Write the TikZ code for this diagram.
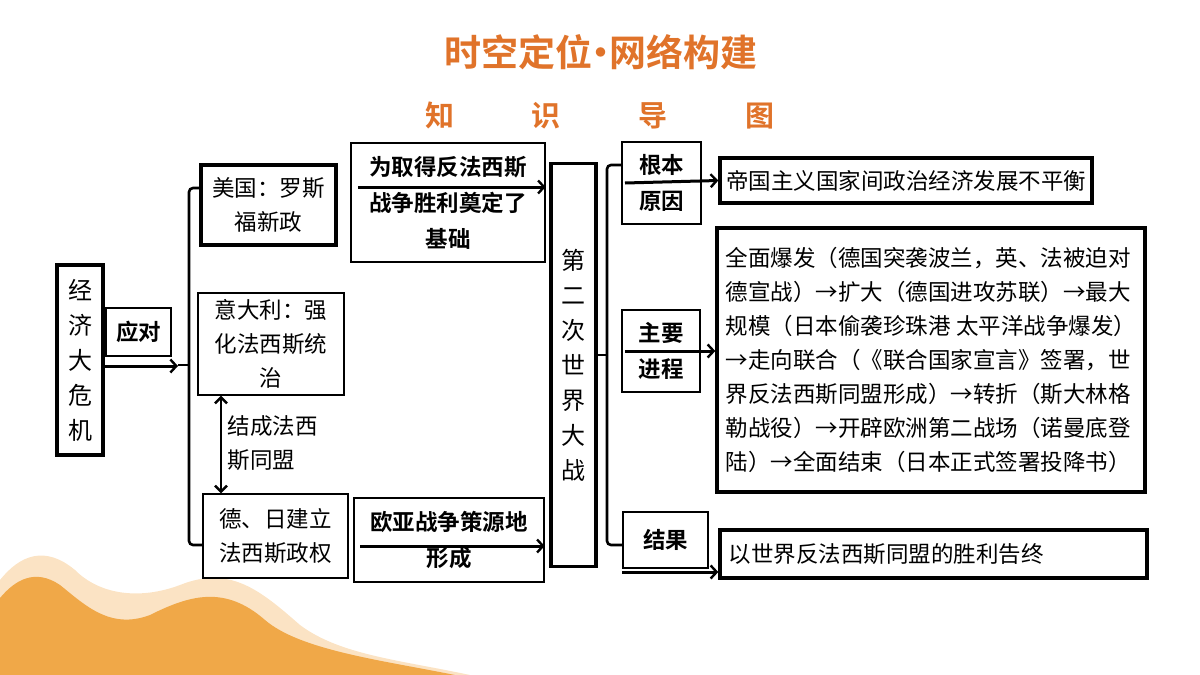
\documentclass[tikz,border=0pt]{standalone}
\usepackage{fontspec}
\setmainfont{Noto Sans CJK SC}
\newfontfamily\cjkb{Noto Sans CJK SC Bold}
\usetikzlibrary{arrows.meta,calc}
\definecolor{ttl}{HTML}{E0732A}
\definecolor{wave}{HTML}{F0A848}
\definecolor{wavel}{HTML}{FBE3C4}
\begin{document}
\begin{tikzpicture}[x=1pt,y=-1pt,
  thinbox/.style={draw,line width=1.4pt,inner sep=0pt,align=center},
  thickbox/.style={draw,line width=3.4pt,inner sep=0pt,align=center},
  arr/.style={line width=3pt,-{Straight Barb[length=6pt,width=13pt,line width=2.4pt]}},
  brk/.style={line width=2.6pt,rounded corners=4pt},
  txt/.style={font=\fontsize{22.5}{34}\selectfont},
  btxt/.style={font=\cjkb\fontsize{22.5}{36}\selectfont},
  vtxt/.style={font=\fontsize{24}{35}\selectfont}]
\useasboundingbox (0,0) rectangle (1200,675);
% wave
\fill[wavel] (0,580) .. controls (20,555) and (45,545) .. (75,570) .. controls (100,595) and (140,600) .. (180,585) .. controls (230,565) and (260,590) .. (300,625) .. controls (340,655) and (400,660) .. (470,675) -- (0,675) -- cycle;
\fill[wave] (0,598) .. controls (15,580) and (35,568) .. (60,585) .. controls (85,605) and (110,630) .. (150,615) .. controls (190,595) and (225,585) .. (265,620) .. controls (300,650) and (380,660) .. (455,675) -- (0,675) -- cycle;
% titles
\node[text=ttl,font=\cjkb\fontsize{37}{40}\selectfont] (title) at (601,52) {时空定位\kern-10pt·\kern-10pt网络构建};
\node[text=ttl,font=\cjkb\fontsize{29}{32}\selectfont] (sub) at (600,115) {知\hspace{78pt}识\hspace{78pt}导\hspace{78pt}图};
% nodes
\node[thickbox,minimum width=46,minimum height=190,vtxt] (jjw) at (80,360) {经\\济\\大\\危\\机};
\node[thinbox,minimum width=65,minimum height=48,btxt] (yd) at (138.5,332) {应对};
\node[thickbox,minimum width=135,minimum height=80,txt] (mg) at (268.5,205) {美国：罗斯\\福新政};
\node[thinbox,minimum width=146,minimum height=102,txt] (ydl) at (271,344) {意大利：强\\化法西斯统\\治};
\node[thinbox,minimum width=145,minimum height=84,txt] (dr) at (275.5,536) {德、日建立\\法西斯政权};
\node[thinbox,minimum width=194,minimum height=119,btxt] (wq) at (448,202.5) {为取得反法西斯\\战争胜利奠定了\\基础};
\node[thinbox,minimum width=190,minimum height=84,btxt] (oy) at (449,540) {欧亚战争策源地\\形成};
\node[thickbox,minimum width=45,minimum height=403,vtxt] (ww) at (573.5,365) {第\\二\\次\\世\\界\\大\\战};
\node[thinbox,minimum width=79,minimum height=82,btxt] (gb) at (661.5,183) {根本\\原因};
\node[thickbox,minimum width=372,minimum height=45,txt] (dg) at (906,180.5) {帝国主义国家间政治经济发展不平衡};
\node[thinbox,minimum width=78,minimum height=82,btxt] (zy) at (661,351) {主要\\进程};
\node[thickbox,minimum width=428,minimum height=264,txt,align=left] (big) at (931,360) {全面爆发（德国突袭波兰，英、法被迫对\\德宣战）→扩大（德国进攻苏联）→最大\\规模（日本偷袭珍珠港~太平洋战争爆发）\\→走向联合（《联合国家宣言》签署，世\\界反法西斯同盟形成）→转折（斯大林格\\勒战役）→开辟欧洲第二战场（诺曼底登\\陆）→全面结束（日本正式签署投降书）};
\node[thinbox,minimum width=85,minimum height=56,btxt] (jg) at (665.5,540) {结果};
\node[thickbox,minimum width=427,minimum height=48,txt,align=left,text width=410] (ysj) at (933.5,554) {以世界反法西斯同盟的胜利告终};
\node[txt,align=left,anchor=west] (jc) at (224,443) {结成法西\\斯同盟};
% coordinates
\coordinate (b1) at (189,365);
\coordinate (b2) at (607,355);
\coordinate (dtop) at (221,0);
% connectors
\draw[arr] (jjw.east |- 0,366) -- (178,366);
\draw[brk] (mg.west |- 0,188) -- (189,188) -- (189,545) -- (dr.west |- 0,545);
\draw[line width=2.6pt] (178,365) -- (b1);
\draw[arr] (358,187) -- (wq.east |- 0,187);
\draw[arr] (360,546) -- (oy.east |- 0,546);
\draw[line width=2.4pt,{Straight Barb[length=6pt,width=12pt]}-{Straight Barb[length=6pt,width=12pt]}] (dtop |- ydl.south) -- (dtop |- dr.north);
\draw[brk] (gb.west |- 0,165) -- (607,165) -- (607,545) -- (jg.west |- 0,545);
\draw[line width=2.6pt] (ww.east |- b2) -- (b2);
\draw[arr] (625,183) -- (dg.west);
\draw[arr] (625,351) -- (big.west |- 0,351);
\draw[arr] (622,572) -- (ysj.west |- 0,572);
\end{tikzpicture}
\end{document}
